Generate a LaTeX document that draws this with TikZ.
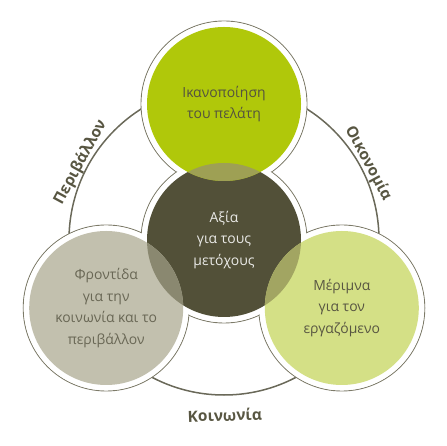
\documentclass[tikz,border=0pt]{standalone}
\usepackage{fontspec}
\setmainfont{Open Sans}
\usetikzlibrary{calc}

\definecolor{limegreen}{RGB}{176,200,10}
\definecolor{palegreen}{RGB}{212,224,134}
\definecolor{stone}{RGB}{194,192,174}
\definecolor{olivedark}{RGB}{82,80,56}
\definecolor{ringgray}{RGB}{125,123,105}
\definecolor{labelgray}{RGB}{88,86,66}
\definecolor{lenstop}{RGB}{158,160,84}
\definecolor{lensleft}{RGB}{138,136,112}
\definecolor{lensright}{RGB}{162,165,98}

\tikzset{
  halo/.style={circle, draw=ringgray, line width=0.9bp, fill=white, minimum size=166bp, inner sep=0pt},
  gap/.style={circle, fill=white, minimum size=164.6bp, inner sep=0pt},
  disc/.style={circle, minimum size=154bp, inner sep=0pt, align=center,
    font=\fontsize{14}{21.5}\selectfont},
  arclabel/.style={anchor=base, inner sep=0pt, text=labelgray,
    font=\fontsize{15.5}{16}\selectfont\bfseries}
}

\begin{document}
\begin{tikzpicture}[x=1bp, y=1bp]
\useasboundingbox (0,0) rectangle (447,446);
\coordinate (hub) at (224,206);

% outer ring
\draw[ringgray!85!black, line width=1.5bp] (hub) circle[radius=155bp];

% white halos with thin outline
\node[halo] (clientH) at (224,342) {};
\node[halo] (valueH) at (hub) {};
\node[halo] (careH) at (106.2,138) {};
\node[halo] (staffH) at (341.8,138) {};
\foreach \c in {clientH, valueH, careH, staffH}
  \node[gap] at (\c.center) {};

% coloured discs
\node[disc, fill=olivedark, text={white!88!olivedark}] (value) at (hub) {Αξία\\για τους\\μετόχους};
\node[disc, fill=limegreen, text={labelgray!95!black}] (client) at (224,342) {Ικανοποίηση\\του πελάτη};
\node[disc, fill=stone, text={labelgray!90!white}] (care) at (106.2,138) {Φροντίδα\\για την\\κοινωνία και το\\περιβάλλον};
\node[disc, fill=palegreen, text=labelgray] (staff) at (341.8,138) {Μέριμνα\\για τον\\εργαζόμενο};

% overlaps with the centre disc
\begin{scope}
  \clip (value.center) circle[radius=77bp];
  \fill[lenstop] (client.center) circle[radius=77bp];
  \fill[lensleft] (care.center) circle[radius=77bp];
  \fill[lensright] (staff.center) circle[radius=77bp];
\end{scope}

% labels round the ring
\node[arclabel, rotate=61.5] (env) at ($(hub)+(151.5:159bp)$) {Περιβάλλον};
\node[arclabel, rotate=-62] (econ) at ($(hub)+(28:159bp)$) {Οικονομία};
\node[arclabel, rotate=2] (soc) at (225,25) {Κοινωνία};
\end{tikzpicture}
\end{document}
